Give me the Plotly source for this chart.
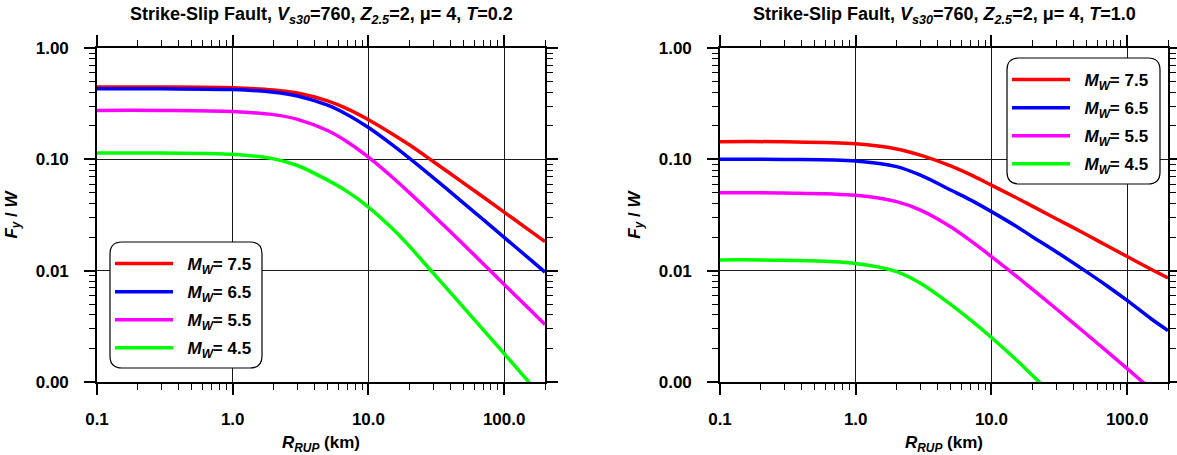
import plotly.graph_objects as go

# ---------------- data ----------------
R = [0.1, 0.3, 1, 2, 3, 5, 7, 10, 15, 20, 30, 50, 70, 100, 150, 200]

# T = 0.2 s (left panel)
t02_m75 = [0.446, 0.446, 0.439, 0.420, 0.394, 0.335, 0.284, 0.227, 0.169, 0.135, 0.0957, 0.0615, 0.0459, 0.0336, 0.0235, 0.0182]
t02_m65 = [0.431, 0.430, 0.423, 0.401, 0.371, 0.3066, 0.2518, 0.193, 0.135, 0.1027, 0.0686, 0.0407, 0.0288, 0.0199, 0.0131, 0.0097]
t02_m55 = [0.275, 0.2748, 0.2686, 0.252, 0.2287, 0.1814, 0.1433, 0.1047, 0.0691, 0.0502, 0.0315, 0.01725, 0.01155, 0.00753, 0.00464, 0.00329]
t02_m45 = [0.114, 0.1138, 0.111, 0.101, 0.088, 0.065, 0.0513, 0.0373, 0.0239, 0.0166, 0.0095, 0.0047, 0.00295, 0.0018, 0.00102, 0.00069]

# T = 1.0 s (right panel)
t10_m75 = [0.144, 0.1437, 0.1378, 0.124, 0.109, 0.0873, 0.0728, 0.0586, 0.0457, 0.038, 0.0293, 0.0211, 0.0169, 0.0134, 0.0103, 0.0086]
t10_m65 = [0.100, 0.0998, 0.0966, 0.086, 0.072, 0.053, 0.0432, 0.0339, 0.0253, 0.0202, 0.0148, 0.0098, 0.0074, 0.0054, 0.0037, 0.0029]
t10_m55 = [0.050, 0.0499, 0.0475, 0.0417, 0.035, 0.0248, 0.0186, 0.0134, 0.00908, 0.00682, 0.00455, 0.0027, 0.00191, 0.00132, 0.00086, 0.00064]
t10_m45 = [0.0125, 0.0124, 0.0116, 0.0098, 0.0077, 0.00498, 0.00361, 0.00251, 0.00161, 0.00115, 0.00071]

magnitudes = ["7.5", "6.5", "5.5", "4.5"]
colors = ["#ff0000", "#0000ff", "#ff00ff", "#00ff00"]

x_tickvals = [0.1, 1, 10, 100]
x_ticktext = ["0.1", "1.0", "10.0", "100.0"]
y_tickvals = [0.001, 0.01, 0.1, 1]
y_ticktext = ["0.00", "0.01", "0.10", "1.00"]

FONT = "Liberation Sans"
W, H = 1177, 455

fig = go.Figure()

panels = [
    ("x", "y", "legend", "L", [t02_m75, t02_m65, t02_m55, t02_m45]),
    ("x2", "y2", "legend2", "R", [t10_m75, t10_m65, t10_m55, t10_m45]),
]
for xa, ya, lg, tag, series in panels:
    for mag, col, vals in zip(magnitudes, colors, series):
        fig.add_trace(go.Scatter(
            x=R[:len(vals)], y=vals, mode="lines",
            line=dict(color=col, width=3.5, shape="spline", smoothing=1.0),
            name=f"\u00a0\u00a0<i>M<sub>W</sub></i>= {mag}",
            legendgroup=f"{tag}{mag}",
            xaxis=xa, yaxis=ya, legend=lg,
        ))

minor_x = [m * 10 ** e for e in range(-1, 3) for m in range(2, 10) if m * 10 ** e <= 200]
minor_y = [m * 10 ** e for e in range(-3, 0) for m in range(2, 10)]

tick_font = dict(family=FONT, size=17, color="black", weight="bold")

def xaxis(domain, anchor):
    return dict(
        type="log", range=[-1, 2.30103], domain=domain, anchor=anchor, automargin=False,
        tickmode="array", tickvals=x_tickvals, ticktext=x_ticktext,
        ticks="outside", ticklen=11, tickwidth=1.5, tickcolor="black", ticklabelstandoff=10,
        minor=dict(tickmode="array", tickvals=minor_x, ticks="outside", ticklen=6,
                   tickwidth=1.3, tickcolor="black", showgrid=False),
        showline=True, linecolor="black", linewidth=1.6, mirror="allticks",
        showgrid=True, gridcolor="#1a1a1a", gridwidth=1, zeroline=False,
        tickfont=tick_font,
        title=dict(text="<i>R<sub>RUP</sub></i> (km)", standoff=10,
                   font=dict(family=FONT, size=17, color="black", weight="bold")),
    )

def yaxis(anchor):
    return dict(
        type="log", range=[-3, 0], domain=[1 - 382 / H, 1 - 48 / H], anchor=anchor, automargin=False,
        tickmode="array", tickvals=y_tickvals, ticktext=y_ticktext,
        ticks="outside", ticklen=11, tickwidth=1.5, tickcolor="black", ticklabelstandoff=12,
        minor=dict(tickmode="array", tickvals=minor_y, ticks="outside", ticklen=6,
                   tickwidth=1.3, tickcolor="black", showgrid=False),
        showline=True, linecolor="black", linewidth=1.6, mirror="allticks",
        showgrid=True, gridcolor="#1a1a1a", gridwidth=1, zeroline=False,
        tickfont=tick_font,
        title=dict(text="<i>F<sub>y</sub></i> / <i>W</i>", standoff=14,
                   font=dict(family=FONT, size=17, color="black", weight="bold")),
    )

left_dom = [97 / W, 545 / W]
right_dom = [720 / W, 1168 / W]

def rounded_box(x0, y0, x1, y1, r=12):
    def px(x):
        return x / W
    def py(y):
        return 1 - y / H
    p = (f"M {px(x0 + r)},{py(y0)} L {px(x1 - r)},{py(y0)} Q {px(x1)},{py(y0)} {px(x1)},{py(y0 + r)} "
         f"L {px(x1)},{py(y1 - r)} Q {px(x1)},{py(y1)} {px(x1 - r)},{py(y1)} "
         f"L {px(x0 + r)},{py(y1)} Q {px(x0)},{py(y1)} {px(x0)},{py(y1 - r)} "
         f"L {px(x0)},{py(y0 + r)} Q {px(x0)},{py(y0)} {px(x0 + r)},{py(y0)} Z")
    return dict(type="path", xref="paper", yref="paper", path=p,
                line=dict(color="black", width=1.2), fillcolor="white", layer="above")

legend_style = dict(
    bgcolor="rgba(0,0,0,0)", borderwidth=0, itemwidth=58,
    font=dict(family=FONT, size=17, color="black", weight="bold"),
    xanchor="left", yanchor="top", tracegroupgap=3, itemclick=False,
)

title_font = dict(family=FONT, size=18, color="black", weight="bold")

fig.update_layout(
    width=W, height=H, margin=dict(l=0, r=0, t=0, b=0),
    paper_bgcolor="white", plot_bgcolor="white",
    font=dict(family=FONT, color="black", weight="bold"),
    xaxis=xaxis(left_dom, "y"), yaxis=yaxis("x"),
    xaxis2=xaxis(right_dom, "y2"), yaxis2=yaxis("x2"),
    showlegend=True,
    legend=dict(x=110 / W, y=1 - 246 / H, **legend_style),
    legend2=dict(x=1007 / W, y=1 - 62 / H, **legend_style),
    shapes=[rounded_box(110, 242, 262, 368), rounded_box(1007, 58, 1160, 184)],
    annotations=[
        dict(text="Strike-Slip Fault, <i>V<sub>s30</sub></i>=760, <i>Z<sub>2.5</sub></i>=2, \u03bc= 4, <i>T</i>=0.2",
             x=(left_dom[0] + left_dom[1]) / 2, y=1 - 16 / H, xref="paper", yref="paper",
             showarrow=False, font=title_font, xanchor="center", yanchor="middle"),
        dict(text="Strike-Slip Fault, <i>V<sub>s30</sub></i>=760, <i>Z<sub>2.5</sub></i>=2, \u03bc= 4, <i>T</i>=1.0",
             x=(right_dom[0] + right_dom[1]) / 2, y=1 - 16 / H, xref="paper", yref="paper",
             showarrow=False, font=title_font, xanchor="center", yanchor="middle"),
    ],
)

fig.write_html("out.html", config={"displayModeBar": False},
               post_script="document.body.style.margin='0px';")
